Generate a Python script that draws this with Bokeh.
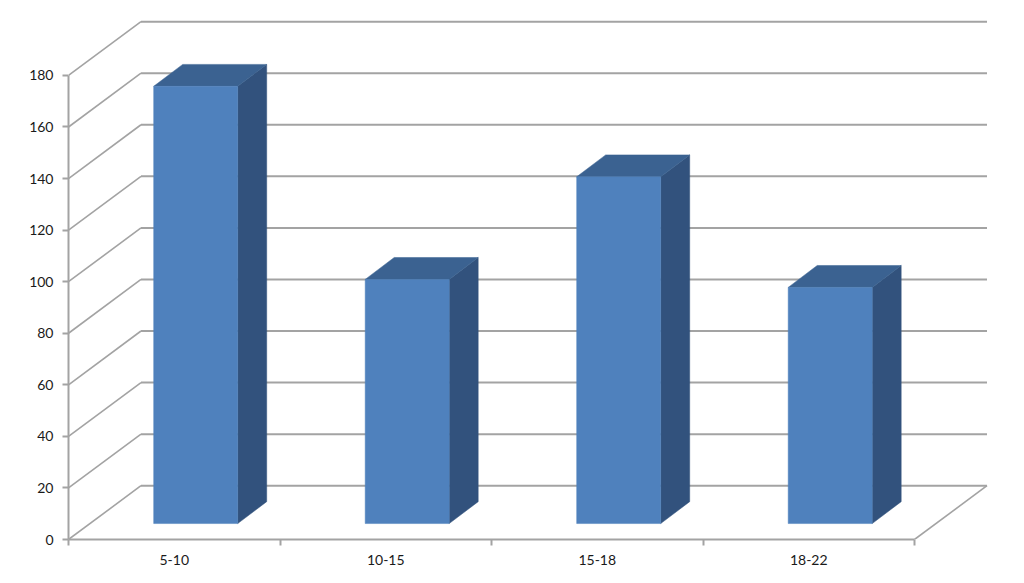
from bokeh.plotting import figure
from bokeh.models import FixedTicker, Range1d
from bokeh.embed import file_html
from bokeh.resources import INLINE

categories = ["5-10", "10-15", "15-18", "18-22"]
values = [169.6, 94.7, 134.5, 91.6]
y_ticks = [0, 20, 40, 60, 80, 100, 120, 140, 160, 180]

# scale: pixels per data unit, used only to build the oblique projection
PX_X = 211.5
PX_Y = 2.588
WALL_DX = 72.5 / PX_X
WALL_DY = 54 / PX_Y
BAR_OFF = 85.2 / PX_X
BAR_W = 84 / PX_X
BAR_BASE = 16 / PX_Y
BAR_DX = 29 / PX_X
BAR_DY = 22 / PX_Y
GRID = "#a3a3a3"
FONT = "Lato"

p = figure(width=1008, height=567, output_backend="svg", toolbar_location=None,
           x_range=Range1d(0, 940 / PX_X), y_range=Range1d(0, 525 / PX_Y),
           min_border_left=68, min_border_right=0, min_border_top=16, min_border_bottom=26)
p.outline_line_color = None
p.grid.visible = False
p.background_fill_color = "white"

n = len(categories)
# back wall and side wall lines
p.segment(x0=[WALL_DX] * len(y_ticks), y0=[t + WALL_DY for t in y_ticks],
          x1=[n + WALL_DX] * len(y_ticks), y1=[t + WALL_DY for t in y_ticks],
          line_color=GRID, line_width=2)
p.segment(x0=[0] * len(y_ticks), y0=y_ticks,
          x1=[WALL_DX] * len(y_ticks), y1=[t + WALL_DY for t in y_ticks],
          line_color=GRID, line_width=1.6)
p.segment(x0=[n], y0=[0], x1=[n + WALL_DX], y1=[WALL_DY], line_color=GRID, line_width=1.6)

# bars: front, top, side
lefts = [i + BAR_OFF for i in range(n)]
rights = [l + BAR_W for l in lefts]
tops = [BAR_BASE + v for v in values]
p.patches(xs=[[r, r + BAR_DX, r + BAR_DX, r] for r in rights],
          ys=[[BAR_BASE, BAR_BASE + BAR_DY, t + BAR_DY, t] for t in tops],
          fill_color="#32527d", line_color="#32527d", line_width=0.5)
p.patches(xs=[[l, l + BAR_DX, r + BAR_DX, r] for l, r in zip(lefts, rights)],
          ys=[[t, t + BAR_DY, t + BAR_DY, t] for t in tops],
          fill_color="#3b6291", line_color="#3b6291", line_width=0.5)
p.quad(left=lefts, right=rights, bottom=[BAR_BASE] * n, top=tops,
       fill_color="#4f81bd", line_color="#4f81bd", line_width=0.5)

# axes
ya = p.yaxis[0]
ya.ticker = FixedTicker(ticks=y_ticks)
ya.bounds = (0, 180)
ya.axis_line_color = GRID
ya.axis_line_width = 2
ya.major_tick_line_color = GRID
ya.major_tick_line_width = 2
ya.major_tick_out = 6
ya.major_tick_in = 0
ya.minor_tick_line_color = None
ya.major_label_text_font = FONT
ya.major_label_text_font_size = "14px"
ya.major_label_text_color = "#1a1a1a"
ya.major_label_standoff = 9

xa = p.xaxis[0]
centers = [i + 0.5 for i in range(n)]
xa.ticker = FixedTicker(ticks=centers, minor_ticks=list(range(n + 1)))
xa.major_label_overrides = {c: l for c, l in zip(centers, categories)}
xa.bounds = (0, n)
xa.axis_line_color = GRID
xa.axis_line_width = 2
xa.major_tick_line_color = None
xa.major_tick_out = 0
xa.major_tick_in = 0
xa.minor_tick_line_color = GRID
xa.minor_tick_line_width = 2
xa.minor_tick_out = 6
xa.minor_tick_in = 0
xa.major_label_text_font = FONT
xa.major_label_text_font_size = "14px"
xa.major_label_text_color = "#1a1a1a"
xa.major_label_standoff = 9

open("out.html", "w").write(file_html(p, INLINE))
